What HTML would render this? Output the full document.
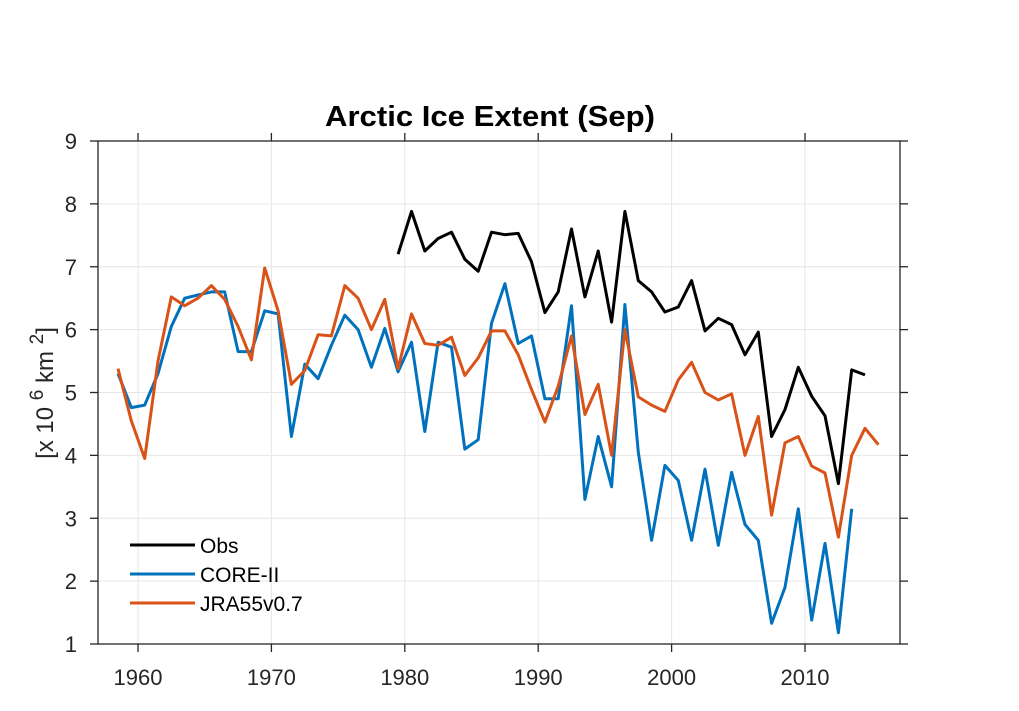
<!DOCTYPE html>
<html><head><meta charset="utf-8"><style>
body{margin:0;background:#fff}
svg{display:block;font-family:"Liberation Sans",Arial,sans-serif}
</style></head><body>
<svg id="c" width="1019" height="711"></svg>
<script>
const obsStart=1979;
const obsValues=[7.2,7.88,7.25,7.45,7.55,7.12,6.93,7.55,7.51,7.53,7.08,6.27,6.6,7.6,6.52,7.25,6.12,7.88,6.78,6.6,6.28,6.36,6.78,5.98,6.18,6.08,5.6,5.96,4.3,4.73,5.4,4.94,4.63,3.55,5.36,5.28];
const coreStart=1958;
const coreValues=[5.3,4.76,4.8,5.3,6.05,6.5,6.55,6.6,6.6,5.65,5.65,6.3,6.25,4.3,5.45,5.22,5.75,6.23,6.0,5.4,6.02,5.33,5.8,4.38,5.8,5.72,4.1,4.25,6.1,6.73,5.78,5.9,4.9,4.9,6.38,3.3,4.3,3.5,6.4,4.05,2.65,3.84,3.6,2.65,3.78,2.57,3.73,2.9,2.65,1.33,1.9,3.15,1.38,2.6,1.18,3.15];
const jraStart=1958;
const jraValues=[5.38,4.55,3.95,5.5,6.52,6.38,6.5,6.7,6.48,6.05,5.52,6.98,6.3,5.13,5.35,5.92,5.9,6.7,6.5,6.0,6.48,5.38,6.25,5.78,5.75,5.88,5.27,5.55,5.98,5.98,5.6,5.05,4.53,5.1,5.9,4.65,5.13,4.0,6.0,4.93,4.8,4.7,5.2,5.48,5.0,4.88,4.98,4.0,4.62,3.05,4.2,4.3,3.83,3.72,2.7,4.0,4.43,4.17];
const xTicks=[1960,1970,1980,1990,2000,2010];
const yTicks=[1,2,3,4,5,6,7,8,9];

const NS="http://www.w3.org/2000/svg";
const svg=document.getElementById('c');
const L=98,R=900,T=141,B=644;
const xs=v=>138+(v-1960)*13.34;
const ys=v=>B-(v-1)*(B-T)/8;
function mk(t,a,p){const e=document.createElementNS(NS,t);for(const k in a)e.setAttribute(k,a[k]);(p||svg).appendChild(e);return e;}

xTicks.forEach(t=>{const g=mk('line',{x1:xs(t),x2:xs(t),y1:T,y2:B,stroke:'#e6e6e6','stroke-width':1});

});
yTicks.forEach(t=>{const g=mk('line',{x1:L,x2:R,y1:ys(t),y2:ys(t),stroke:'#e6e6e6','stroke-width':1});

});
const bx=mk('rect',{x:L,y:T,width:R-L,height:B-T,fill:'none',stroke:'#262626','stroke-width':1.3});


xTicks.forEach(t=>{
 mk('line',{x1:xs(t),x2:xs(t),y1:B,y2:B+8,stroke:'#262626','stroke-width':1.3});
 mk('line',{x1:xs(t),x2:xs(t),y1:T,y2:T-8,stroke:'#262626','stroke-width':1.3});
 const tx=mk('text',{x:xs(t),y:B+41,'text-anchor':'middle','font-size':22,fill:'#262626'});tx.textContent=t;
 
 
});
yTicks.forEach(t=>{
 mk('line',{x1:L,x2:L-8,y1:ys(t),y2:ys(t),stroke:'#262626','stroke-width':1.3});
 mk('line',{x1:R,x2:R+8,y1:ys(t),y2:ys(t),stroke:'#262626','stroke-width':1.3});
 const tx=mk('text',{x:77,y:ys(t)+8,'text-anchor':'end','font-size':22,fill:'#262626'});tx.textContent=t;
 
 
});
function series(start,vals,color,name){
 const d=vals.map((v,i)=>(i?'L':'M')+xs(start+i+0.5).toFixed(1)+','+ys(v).toFixed(1)).join('');
 const p=mk('path',{d:d,fill:'none',stroke:color,'stroke-width':3,'stroke-linejoin':'round'});
 
 
}
series(coreStart,coreValues,'#0072bd','core-ii-line');
series(jraStart,jraValues,'#d95319','jra55-line');
series(obsStart,obsValues,'#000000','obs-line');
const ti=mk('text',{x:325,y:126,'font-size':29,'font-weight':'bold',fill:'#000',textLength:330,lengthAdjust:'spacingAndGlyphs'});ti.textContent='Arctic Ice Extent (Sep)';


const yl=mk('text',{transform:'translate(53,393) rotate(-90)','text-anchor':'middle','font-size':24,fill:'#262626'});
yl.innerHTML='[x 10 <tspan dy="-10" font-size="19">6</tspan><tspan dy="10"> km </tspan><tspan dy="-10" font-size="19">2</tspan><tspan dy="10">]</tspan>';


[['Obs','#000','legend-obs'],['CORE-II','#0072bd','legend-core-ii'],['JRA55v0.7','#d95319','legend-jra55']].forEach((e,i)=>{
 const y=545+i*29;
 const g=mk('g',{});
 
 
 mk('line',{x1:130,x2:195,y1:y,y2:y,stroke:e[1],'stroke-width':3},g);
 const t=mk('text',{x:200,y:y+8,'font-size':21,fill:'#000'},g);t.textContent=e[0];
});
</script>
</body></html>
